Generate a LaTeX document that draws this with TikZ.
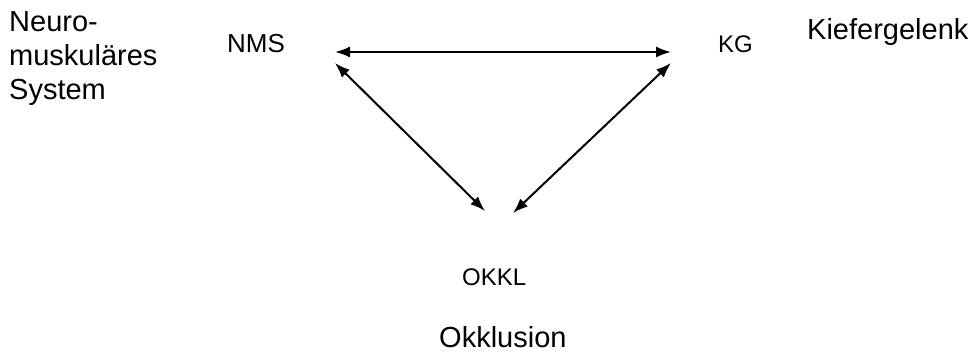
\documentclass[tikz,border=0pt]{standalone}
\usepackage{fontspec}
\setmainfont{Liberation Sans}
\usetikzlibrary{arrows.meta}
\begin{document}
\begin{tikzpicture}[x=1pt,y=-1pt,
  lab/.style={inner sep=0pt, anchor=base west, font=\fontsize{24}{28}\selectfont},
  big/.style={inner sep=0pt, anchor=base west, align=left, font=\fontsize{29}{34}\selectfont},
  arr/.style={line width=2pt, {Latex[length=15pt,width=11pt]}-{Latex[length=15pt,width=11pt]}}]
\useasboundingbox (0,0) rectangle (973,352);
\node[big] (neuro) at (9,100) {Neuro-\\muskuläres\\System};
\node[big] (kiefer) at (807,40) {Kiefergelenk};
\node[big] (okkl) at (439,347) {Okklusion};
\node[lab, font=\fontsize{26}{30}\selectfont] (NMS) at (227,53) {NMS};
\node[lab] (KG) at (718,53) {KG};
\node[lab] (OKKL) at (462,285) {OKKL};
\draw[arr] ([shift={(108,-1)}]NMS.base west) -- ([shift={(-47,-1)}]KG.base west);
\draw[arr] ([shift={(108,10)}]NMS.base west) -- ([shift={(23,-74)}]OKKL.base west);
\draw[arr] ([shift={(-47,10)}]KG.base west) -- ([shift={(51,-72)}]OKKL.base west);
\end{tikzpicture}
\end{document}
